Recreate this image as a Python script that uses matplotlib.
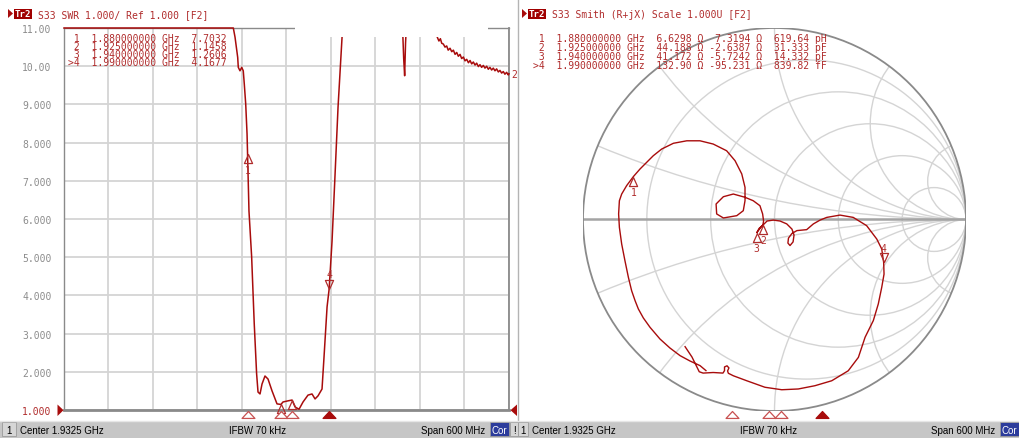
import numpy as np
import matplotlib
matplotlib.use("Agg")
import matplotlib.pyplot as plt
from matplotlib.patches import Rectangle, Circle, Polygon
from matplotlib.path import Path
from matplotlib.markers import MarkerStyle
import matplotlib.transforms as mtransforms

W, H, DPI = 1019, 439, 100

# ---------------- data ----------------
f_start, f_stop = 1.6325, 2.2325          # GHz
ifbw_text = "IFBW 70 kHz"

swr_freq = [1.6325, 1.8608, 1.8631, 1.8667, 1.8675, 1.8698, 1.8721, 1.8742,
            1.8756, 1.8775, 1.8793, 1.8800, 1.8819, 1.8855, 1.8890, 1.8922,
            1.8941, 1.8968, 1.8995, 1.9035, 1.9076, 1.9130, 1.9197, 1.9250,
            1.9278, 1.9346, 1.9400, 1.9440, 1.9494, 1.9548, 1.9615, 1.9669,
            1.9710, 1.9750, 1.9804, 1.9831, 1.9872, 1.9900, 1.9939, 1.9980,
            2.0020, 2.0074, 2.0090, 2.0890, 2.0905, 2.0918, 2.0930, 2.0940,
            2.1330, 2.1358, 2.1380, 2.1400, 2.1418, 2.1440, 2.1462, 2.1485,
            2.1505, 2.1530, 2.1553, 2.1575, 2.1598, 2.1620, 2.1642, 2.1665,
            2.1687, 2.1710, 2.1732, 2.1755, 2.1778, 2.1800, 2.1822, 2.1844,
            2.1867, 2.1889, 2.1912, 2.1934, 2.1956, 2.1979, 2.2001, 2.2024,
            2.2046, 2.2068, 2.2091, 2.2113, 2.2136, 2.2158, 2.2181, 2.2203,
            2.2226, 2.2248, 2.2270, 2.2293, 2.2315, 2.2325]
swr_vals = [11.00, 11.00, 10.76, 10.23, 9.97, 9.88, 9.97, 9.88,
            9.53, 9.01, 8.23, 7.7032, 6.21, 5.01, 3.26, 1.95,
            1.47, 1.42, 1.68, 1.89, 1.81, 1.50, 1.16, 1.1458,
            1.21, 1.24, 1.2606, 1.08, 1.02, 1.21, 1.39, 1.42,
            1.29, 1.37, 1.55, 2.39, 3.70, 4.1677, 5.42, 7.18,
            8.93, 10.76, 11.00, 11.00, 10.20, 9.75, 10.60, 11.00,
            11.00, 10.76, 10.66, 10.72, 10.60, 10.58, 10.50, 10.53,
            10.42, 10.47, 10.38, 10.42, 10.31, 10.36, 10.26, 10.31,
            10.20, 10.24, 10.14, 10.18, 10.09, 10.15, 10.06, 10.11,
            10.03, 10.08, 9.99, 10.04, 9.97, 10.02, 9.95, 10.00,
            9.92, 9.97, 9.90, 9.95, 9.88, 9.93, 9.85, 9.89,
            9.82, 9.86, 9.79, 9.84, 9.77, 9.80]

marker_ids = ["1", "2", "3", ">4"]
marker_freq = [1.880, 1.925, 1.940, 1.990]
marker_swr = [7.7032, 1.1458, 1.2606, 4.1677]
marker_res = [6.6298, 44.188, 41.172, 132.90]
marker_reac = [7.3194, -2.6387, -5.7242, -95.231]
marker_lc = ["619.64 pH", "31.333 pF", "14.332 pF", "839.82 fF"]
z0 = 50.0

# reflection coefficient trace (real, imaginary), in sweep order
smith_re = [-0.358, -0.389, -0.441, -0.493, -0.546, -0.598, -0.650, -0.685,
            -0.711, -0.728, -0.746, -0.763, -0.781, -0.798, -0.810, -0.814,
            -0.810, -0.798, -0.772, -0.737, -0.702, -0.667, -0.633, -0.589,
            -0.528, -0.458, -0.389, -0.320, -0.250, -0.206, -0.171, -0.154,
            -0.154, -0.163, -0.197, -0.267, -0.302, -0.305, -0.267, -0.215,
            -0.154, -0.111, -0.076, -0.062, -0.057, -0.061, -0.081, -0.0925,
            -0.070, -0.039, -0.006, 0.029, 0.064, 0.091, 0.102, 0.097,
            0.081, 0.070, 0.073, 0.091, 0.117, 0.168, 0.203, 0.238,
            0.273, 0.342, 0.411, 0.481, 0.534, 0.560, 0.570, 0.572,
            0.560, 0.542, 0.516, 0.473, 0.438, 0.385, 0.299, 0.211,
            0.124, 0.038, -0.050, -0.145, -0.215, -0.241, -0.245, -0.238,
            -0.248, -0.261, -0.261, -0.269, -0.320, -0.373, -0.393, -0.431,
            -0.467]
smith_im = [-0.789, -0.763, -0.739, -0.711, -0.671, -0.624, -0.563, -0.514,
            -0.467, -0.424, -0.372, -0.302, -0.215, -0.128, -0.041, 0.029,
            0.098, 0.133, 0.177, 0.224, 0.264, 0.299, 0.333, 0.368,
            0.398, 0.411, 0.411, 0.394, 0.359, 0.307, 0.238, 0.168,
            0.098, 0.046, 0.020, 0.008, 0.029, 0.081, 0.119, 0.133,
            0.116, 0.098, 0.072, 0.029, -0.008, -0.030, -0.047, -0.069,
            -0.039, -0.008, -0.003, -0.008, -0.023, -0.050, -0.081, -0.117,
            -0.136, -0.123, -0.097, -0.073, -0.058, -0.053, -0.023, -0.003,
            0.011, 0.023, 0.011, -0.032, -0.102, -0.154, -0.224, -0.285,
            -0.354, -0.441, -0.528, -0.615, -0.720, -0.790, -0.842, -0.868,
            -0.885, -0.889, -0.876, -0.842, -0.816, -0.803, -0.791, -0.775,
            -0.764, -0.770, -0.789, -0.802, -0.799, -0.802, -0.795, -0.718,
            -0.664]

smith_r_circles = [0.2, 0.5, 1.0, 2.0, 5.0]
smith_x_arcs = [0.2, 0.5, 1.0, 2.0, 5.0]

# ---------------- styling ----------------
TRACE = "#a80c0c"
MRED = "#b02c2c"
GRID = "#d4d4d4"
FRAME = "#8a8a8a"
MONO = "DejaVu Sans Mono"
MSIZE = 7.05
SANS = "Liberation Sans"

fig = plt.figure(figsize=(W / DPI, H / DPI), dpi=DPI)
fig.patch.set_facecolor("white")


def frect(x0, y0, x1, y1):
    return [x0 / W, 1 - y1 / H, (x1 - x0) / W, (y1 - y0) / H]


def canvas(z):
    a = fig.add_axes([0, 0, 1, 1], zorder=z)
    a.set_xlim(0, W)
    a.set_ylim(H, 0)
    a.axis("off")
    return a


bg = canvas(0)
fg = canvas(10)

# triangle markers with the tip on the point
tri_up = MarkerStyle(Path([(0, 0), (-0.45, -1), (0.45, -1), (0, 0)],
                          [Path.MOVETO, Path.LINETO, Path.LINETO, Path.CLOSEPOLY]))
tri_dn = MarkerStyle(Path([(0, 0), (-0.45, 1), (0.45, 1), (0, 0)],
                          [Path.MOVETO, Path.LINETO, Path.LINETO, Path.CLOSEPOLY]))
tri_axis = MarkerStyle(Path([(0, 0), (-0.93, -1), (0.93, -1), (0, 0)],
                            [Path.MOVETO, Path.LINETO, Path.LINETO, Path.CLOSEPOLY]))

# ---------------- SWR panel ----------------
ax = fig.add_axes(frect(64, 29, 509, 411), zorder=2)
ax.set_xlim(f_start, f_stop)
ax.set_ylim(1, 11)
ax.set_xticks(np.linspace(f_start, f_stop, 11))
ax.set_yticks(np.arange(1, 12))
ax.grid(True, color=GRID, lw=1.3)
ax.set_axisbelow(True)
ax.tick_params(length=0, labelbottom=False, pad=9)
ylabels = [f"{v:.2f}" if v >= 10 else f"{v:.3f}" for v in np.arange(1, 12)]
ax.set_yticklabels(ylabels, family=MONO, fontsize=MSIZE, color="#8c8c8c")
ax.get_yticklabels()[0].set_color(MRED)
for side, lw in (("left", 1.0), ("top", 1.0), ("right", 1.3), ("bottom", 2.0)):
    ax.spines[side].set_color(FRAME)
    ax.spines[side].set_linewidth(lw)

ax.plot(swr_freq, np.clip(swr_vals, 1, 11), color=TRACE, lw=1.1,
        clip_on=False, zorder=3)

for i, (f, s) in enumerate(zip(marker_freq, marker_swr)):
    lab = marker_ids[i].strip(">")
    if i < 3:
        ax.plot([f], [s], marker=tri_up, ms=13, mfc="none", mec=MRED,
                mew=0.9, zorder=4, clip_on=False)
        ax.annotate(lab, (f, s), xytext=(0, -11.5), textcoords="offset points",
                    ha="center", va="center", family=MONO, fontsize=MSIZE,
                    color=MRED, annotation_clip=False, clip_on=True, zorder=4)
    else:
        ax.plot([f], [s], marker=tri_dn, ms=13, mfc="none", mec=MRED,
                mew=0.9, zorder=4, clip_on=False)
        ax.annotate(lab, (f, s), xytext=(0, 10.5), textcoords="offset points",
                    ha="center", va="center", family=MONO, fontsize=MSIZE,
                    color=MRED, zorder=4)

# stimulus markers under the axis
tb = mtransforms.blended_transform_factory(ax.transData, ax.transAxes)
for i, f in enumerate(marker_freq):
    active = i == 3
    ax.plot([f], [-0.002], marker=tri_axis, ms=10, transform=tb,
            mfc=TRACE if active else "white", mec=TRACE if active else "#c85050",
            mew=0.9, clip_on=False, zorder=5)

# trace number at the end of the sweep
ax.annotate("2", (1.0, swr_vals[-1]), xycoords=("axes fraction", "data"),
            xytext=(1.6, 0), textcoords="offset points", ha="left", va="center",
            family=MONO, fontsize=MSIZE, color=MRED, annotation_clip=False)

# ---------------- Smith panel ----------------
sax = fig.add_axes(frect(583, 29, 966, 412), zorder=2)
sax.set_xlim(-1, 1)
sax.set_ylim(-1, 1)
sax.axis("off")
unit = Circle((0, 0), 1, transform=sax.transData)
for r in smith_r_circles:
    c = Circle((r / (1 + r), 0), 1 / (1 + r), fill=False, ec=GRID, lw=1.0)
    sax.add_patch(c)
    c.set_clip_path(unit)
for x in smith_x_arcs:
    for sgn in (1, -1):
        c = Circle((1, sgn / x), 1 / x, fill=False, ec=GRID, lw=1.0)
        sax.add_patch(c)
        c.set_clip_path(unit)
sax.plot([-1, 1], [0, 0], color="#a4a4a4", lw=1.8, zorder=2)
sax.add_patch(Circle((0, 0), 1, fill=False, ec=FRAME, lw=1.3, zorder=2))

sax.plot(smith_re, smith_im, color=TRACE, lw=1.0, zorder=3)

for i in range(4):
    z = complex(marker_res[i], marker_reac[i]) / z0
    g = (z - 1) / (z + 1)
    lab = marker_ids[i].strip(">")
    if i < 3:
        sax.plot([g.real], [g.imag], marker=tri_up, ms=13, mfc="none",
                 mec=MRED, mew=0.9, zorder=4)
        sax.annotate(lab, (g.real, g.imag), xytext=(0, -11.0),
                     textcoords="offset points", ha="center", va="center",
                     family=MONO, fontsize=MSIZE, color=MRED, zorder=4)
    else:
        sax.plot([g.real], [g.imag], marker=tri_dn, ms=13, mfc="none",
                 mec=MRED, mew=0.9, zorder=4)
        sax.annotate(lab, (g.real, g.imag), xytext=(0, 10.5),
                     textcoords="offset points", ha="center", va="center",
                     family=MONO, fontsize=MSIZE, color=MRED, zorder=4)

# stimulus markers along the bottom of the Smith panel
stim = fig.add_axes(frect(529.2, 405, 1020.1, 412), zorder=3)
stim.set_xlim(f_start, f_stop)
stim.set_ylim(0, 1)
stim.axis("off")
for i, f in enumerate(marker_freq):
    active = i == 3
    stim.plot([f], [0], marker=tri_axis, ms=10,
              mfc=TRACE if active else "white", mec=TRACE if active else "#c85050",
              mew=0.9, clip_on=False)

# ---------------- panel furniture ----------------
# hidden strip along the top of the SWR grid
fg.add_patch(Rectangle((295, 27.2), 193, 10.3, fc="white", ec="none", zorder=1))

# reference level arrows
fg.add_patch(Polygon([(57.5, 405.5), (57.5, 417), (63.5, 411.2)], closed=True,
                     fc=TRACE, ec="none", zorder=3))
fg.add_patch(Polygon([(517, 405.5), (517, 417), (510.5, 411.2)], closed=True,
                     fc=TRACE, ec="none", zorder=3))

# panel divider
bg.plot([518.5, 518.5], [0, 422], color="#b4b4b4", lw=1.0)


def title(x0, text):
    fg.add_patch(Polygon([(x0, 10), (x0, 19), (x0 + 5, 14.5)], closed=True,
                         fc=TRACE, ec="none", zorder=3))
    fg.add_patch(Rectangle((x0 + 6.5, 9.5), 17.5, 10, fc="#a00000", ec="none",
                           zorder=3))
    fg.text(x0 + 15.25, 14.6, "Tr2", ha="center", va="center", family=MONO,
            fontsize=6.6, color="white", weight="bold", zorder=4)
    fg.text(x0 + 30.5, 14.6, text, ha="left", va="center", family=MONO,
            fontsize=MSIZE, color=MRED, zorder=4)


title(8, "S33 SWR 1.000/ Ref 1.000 [F2]")
title(522, "S33 Smith (R+jX) Scale 1.000U [F2]")

# marker readouts
for i in range(4):
    row = f"{marker_ids[i]:>2}  {marker_freq[i]:.9f} GHz  {marker_swr[i]:.4f}"
    fg.text(67.9, 39 + 8.0 * i, row, ha="left", va="center", family=MONO,
            fontsize=MSIZE, color=MRED, zorder=4)
    res = f"{marker_res[i]:#.5g}"
    rea = f"{marker_reac[i]:#.5g}"
    row = (f"{marker_ids[i]:>2}  {marker_freq[i]:.9f} GHz  {res} \u03a9 "
           f"{rea:>7} \u03a9  {marker_lc[i]}")
    fg.text(533.0, 39.5 + 8.8 * i, row, ha="left", va="center", family=MONO,
            fontsize=MSIZE, color=MRED, zorder=4)

# status bars
center = (f_start + f_stop) / 2
span_mhz = (f_stop - f_start) * 1000
bg.add_patch(Rectangle((0, 422), W, H - 422, fc="#c6c6c6", ec="none"))
bg.plot([0, W], [422.5, 422.5], color="#e6e6e6", lw=1.0)


def box(x0, x1, txt, fc="#d6d6d6", tc="black"):
    bg.add_patch(Rectangle((x0, 423.5), x1 - x0, 14, fc=fc, ec="#9a9a9a", lw=0.6))
    bg.text((x0 + x1) / 2, 431, txt, ha="center", va="center", family=SANS,
            fontsize=7.0, color=tc)


def status(x0, x1, cor_x0):
    bg.text(x0, 431, f"Center {center:.4f} GHz", ha="left", va="center",
            family=SANS, fontsize=7.0, color="black")
    bg.text((x0 + cor_x0) / 2 + 2, 431, ifbw_text, ha="center", va="center",
            family=SANS, fontsize=7.0, color="black")
    bg.text(cor_x0 - 5, 431, f"Span {span_mhz:.0f} MHz", ha="right",
            va="center", family=SANS, fontsize=7.0, color="black")
    box(cor_x0, cor_x0 + 18.5, "Cor", fc="#2c3c9c", tc="white")


box(2, 16, "1")
status(20, 490, 490.5)
box(510.5, 518.5, "!")
box(518.5, 528.5, "1")
status(532, 1000, 1000.5)

fig.savefig("out.png", dpi=DPI, facecolor="white")
